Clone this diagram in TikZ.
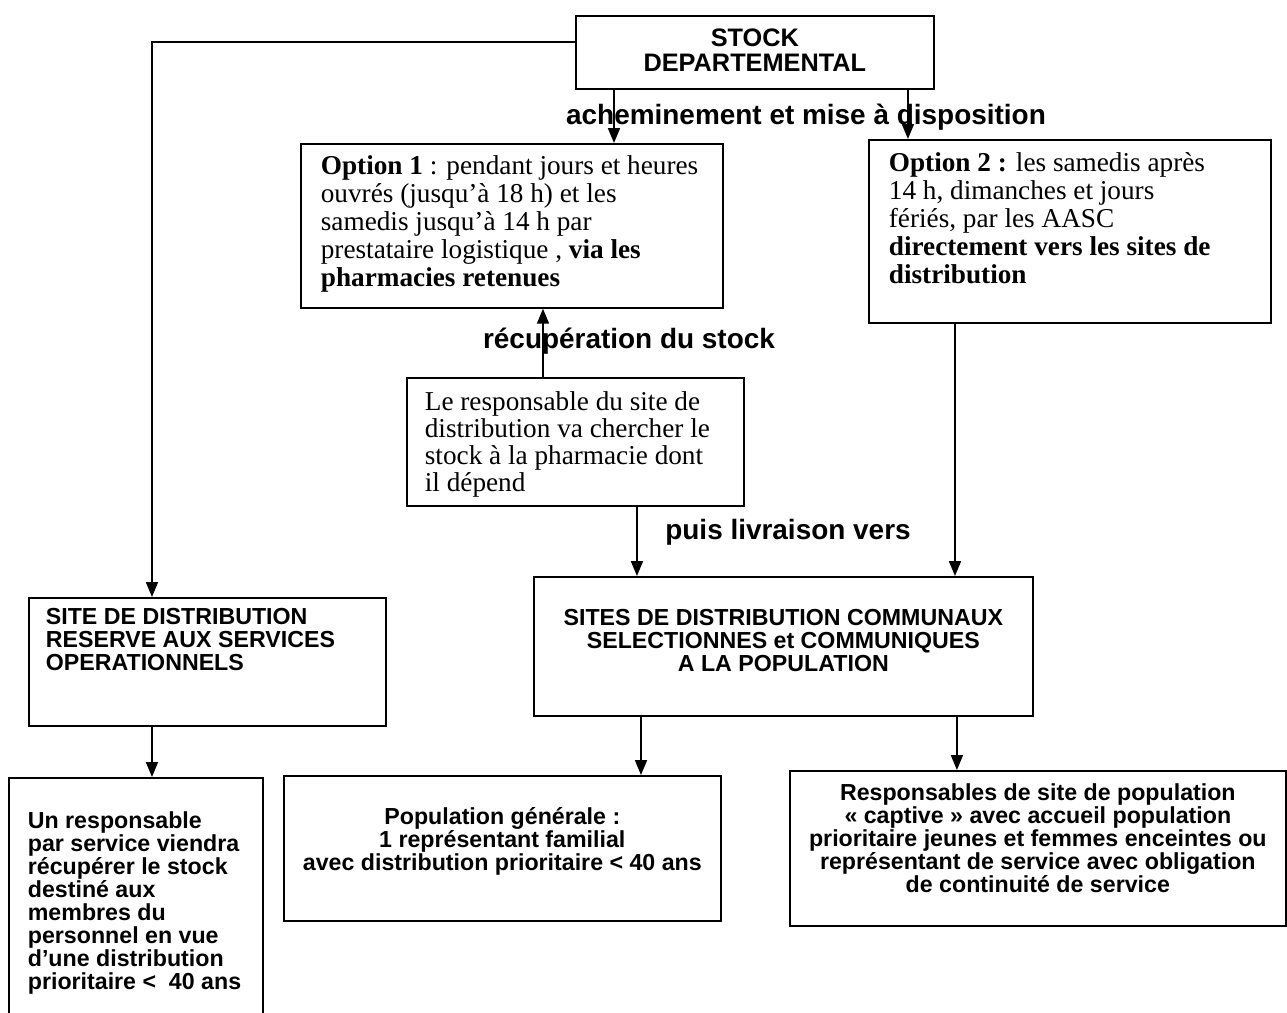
\documentclass[tikz,border=0pt]{standalone}
\usepackage{fontspec}
\setmainfont{Liberation Serif}
\setsansfont{Liberation Sans}
\usetikzlibrary{arrows.meta,positioning,calc}

\newcommand{\cadre}[4]{\parbox[c][#2][t]{#1}{\vspace*{#3}#4}}
\newcommand{\capsans}{\sffamily\bfseries\fontsize{13.2}{13.1}\selectfont}
\newcommand{\serif}{\rmfamily\fontsize{15.5}{15.9}\selectfont}

\tikzset{
  boite/.style={draw, line width=1pt, inner sep=0pt, anchor=north west},
  fleche/.style={line width=1pt, -{Triangle[length=0.3cm,width=0.24cm]}},
  etiquette/.style={font=\sffamily\bfseries\fontsize{15.9}{19}\selectfont, inner sep=0pt},
}

\begin{document}
\begin{tikzpicture}[x=0.02cm,y=-0.02cm]
  \useasboundingbox (0,0) rectangle (1287,1012);

  % boites
  \node[boite] (stock) at (575,15) {\cadre{7.16cm}{1.46cm}{0.26cm}{\centering\sffamily\bfseries\fontsize{14.4}{14.2}\selectfont STOCK\\DEPARTEMENTAL}};
  \node[boite] (opt1) at (300,143) {\cadre{8.44cm}{3.28cm}{0.24cm}{\serif\raggedright\leftskip=0.4cm
    \textbf{Option 1} : pendant jours et heures\\ ouvrés (jusqu’à 18 h) et les\\ samedis jusqu’à 14 h par\\ prestataire logistique , \textbf{via les}\\ \textbf{pharmacies retenues}}};
  \node[boite] (opt2) at (868,139) {\cadre{8.04cm}{3.66cm}{0.26cm}{\serif\raggedright\leftskip=0.4cm
    \textbf{Option 2 :} les samedis après\\ 14 h, dimanches et jours\\ fériés, par les AASC\\ \textbf{directement vers les sites de}\\ \textbf{distribution}}};
  \node[boite] (resp) at (406,377) {\cadre{6.74cm}{2.56cm}{0.28cm}{\rmfamily\fontsize{15.5}{15.3}\selectfont\raggedright\leftskip=0.36cm
    Le responsable du site de\\ distribution va chercher le\\ stock à la pharmacie dont\\ il dépend}};
  \node[boite] (sites) at (533,576) {\cadre{9.98cm}{2.78cm}{0.64cm}{\capsans\centering
    SITES DE DISTRIBUTION COMMUNAUX\\ SELECTIONNES et COMMUNIQUES\\ A LA POPULATION}};
  \node[boite] (site) at (28,597) {\cadre{7.14cm}{2.56cm}{0.2cm}{\capsans\raggedright\leftskip=0.34cm
    SITE DE DISTRIBUTION\\ RESERVE AUX SERVICES\\ OPERATIONNELS}};
  \node[boite] (unresp) at (8,777) {\cadre{5.08cm}{4.9cm}{0.68cm}{\capsans\raggedright\leftskip=0.38cm
    Un responsable\\ par service viendra\\ récupérer le stock\\ destiné aux\\ membres du\\ personnel en vue\\ d’une distribution\\ prioritaire <\ \ 40 ans}};
  \node[boite] (popu) at (283,775) {\cadre{8.74cm}{2.9cm}{0.64cm}{\capsans\centering
    Population générale :\\ 1 représentant familial\\ avec distribution prioritaire < 40 ans}};
  \node[boite] (respo) at (789,770) {\cadre{9.92cm}{3.1cm}{0.26cm}{\capsans\centering
    Responsables de site de population\\ « captive » avec accueil population\\ prioritaire jeunes et femmes enceintes ou\\ représentant de service avec obligation\\ de continuité de service}};

  % fleches
  \draw[fleche] ([yshift=-0.54cm]stock.north west) -| ([xshift=2.48cm]site.north west);
  \draw[fleche] ([xshift=0.78cm]stock.south west) -- ([xshift=0.78cm]stock.south west |- opt1.north);
  \draw[fleche] ([xshift=6.66cm]stock.south west) -- ([xshift=6.66cm]stock.south west |- opt2.north);
  \draw[fleche] ([xshift=2.74cm]resp.north west) -- ([xshift=2.74cm]resp.north west |- opt1.south);
  \draw[fleche] ([xshift=4.62cm]resp.south west) -- ([xshift=4.62cm]resp.south west |- sites.north);
  \draw[fleche] ([xshift=1.74cm]opt2.south west) -- ([xshift=1.74cm]opt2.south west |- sites.north);
  \draw[fleche] ([xshift=2.48cm]site.south west) -- ([xshift=2.48cm]site.south west |- unresp.north);
  \draw[fleche] ([xshift=2.16cm]sites.south west) -- ([xshift=2.16cm]sites.south west |- popu.north);
  \draw[fleche] ([xshift=8.48cm]sites.south west) -- ([xshift=8.48cm]sites.south west |- respo.north);

  % etiquettes
  \node[etiquette] (achem) at (806,117) {acheminement et mise à disposition};
  \node[etiquette] (recup) at (629,341) {récupération du stock};
  \node[etiquette] (puis) at (788,532) {puis livraison vers};
\end{tikzpicture}
\end{document}
